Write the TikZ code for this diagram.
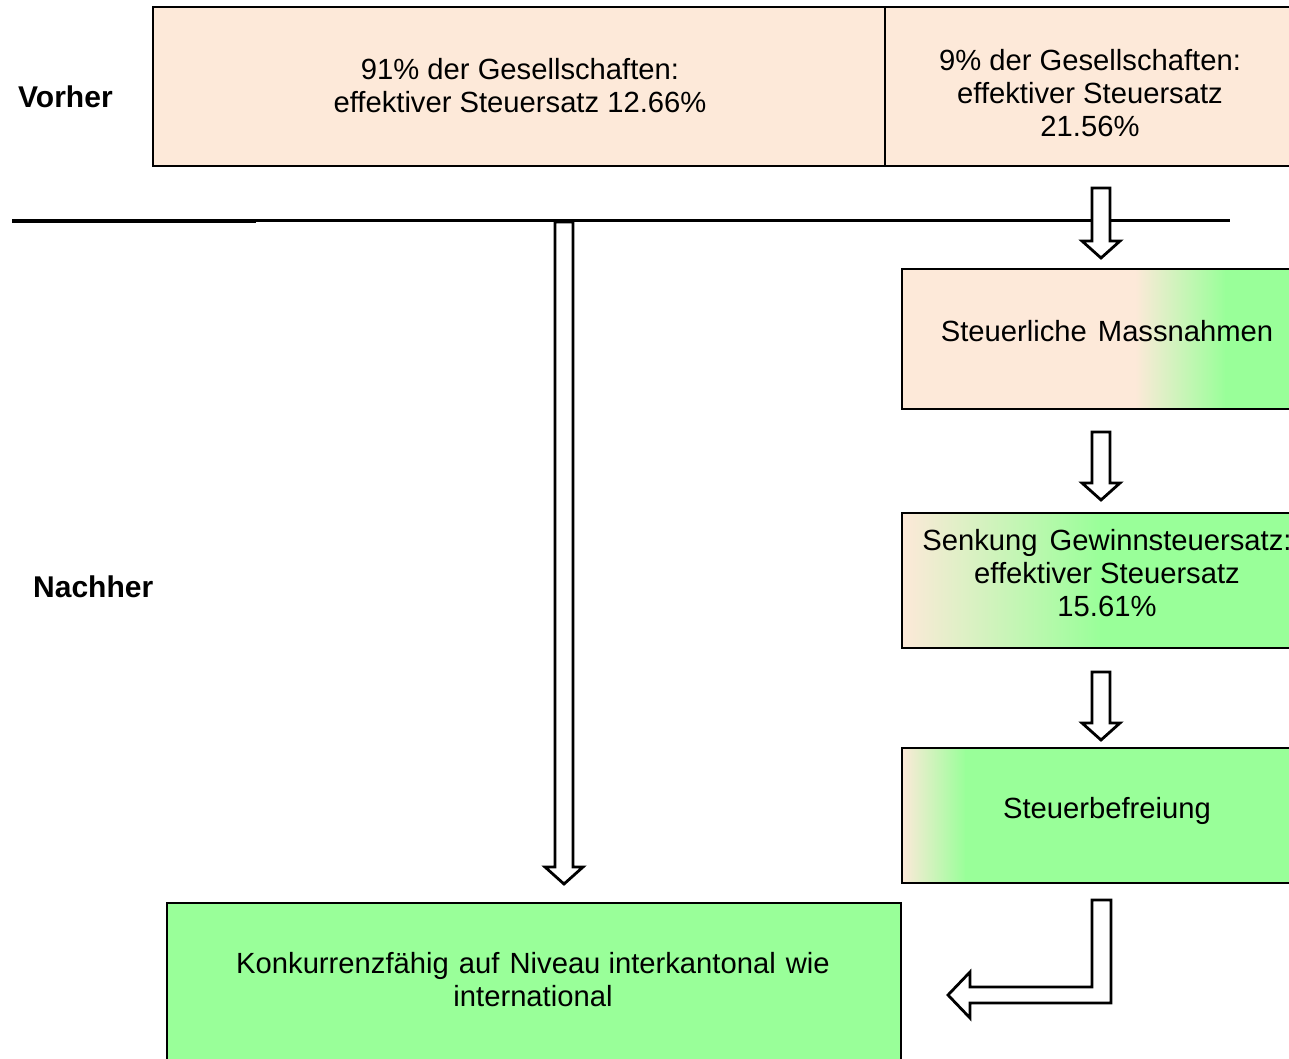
\documentclass[tikz,border=0pt]{standalone}
\usepackage{fontspec}
\setmainfont{Liberation Sans}
\definecolor{peach}{RGB}{253,233,217}
\definecolor{lgreen}{RGB}{153,255,153}
\tikzset{
  box/.style={draw=black, line width=2.5pt, rectangle, inner sep=0pt},
  txt/.style={align=center, inner sep=0pt, font=\fontsize{29.2}{33}\selectfont},
  lbl/.style={anchor=west, inner sep=0pt, font=\fontsize{30}{33}\selectfont\bfseries},
  blockarrow/.style={draw=black, fill=white, line width=2.8pt, line join=miter},
  sepline/.style={draw=black, line width=3pt},
}
\newcommand\barrowdown[3]{%
  \draw[blockarrow] (#1-9,#2) -- (#1+9,#2) -- (#1+9,#3-17) -- (#1+19,#3-17) -- (#1,#3) -- (#1-19,#3-17) -- (#1-9,#3-17) -- cycle;}
\begin{document}
\begin{tikzpicture}[x=1pt,y=-1pt]
\useasboundingbox (0,0) rectangle (1289,1059);
\clip (0,0) rectangle (1289,1059);
% fills
\fill[peach] (153,7) rectangle (1300,166);
\fill[peach] (902,269) rectangle (1136,409);
\shade[left color=peach, right color=lgreen] (1135,269) rectangle (1226,409);
\fill[lgreen] (1225,269) rectangle (1320,409);
\shade[left color=peach, right color=lgreen] (902,513) rectangle (1101,648);
\fill[lgreen] (1100,513) rectangle (1320,648);
\shade[left color=peach, right color=lgreen] (902,748) rectangle (966,883);
\fill[lgreen] (965,748) rectangle (1320,883);
\fill[lgreen] (167,903) rectangle (901,1080);
% boxes
\node[box, minimum width=732pt, minimum height=159pt] (b91) at (519,86.5) {};
\node[box, minimum width=410pt, minimum height=159pt] (b9) at (1090,86.5) {};
\node[box, minimum width=410pt, minimum height=140pt] (bmass) at (1107,339) {};
\node[box, minimum width=410pt, minimum height=135pt] (bsenk) at (1107,580.5) {};
\node[box, minimum width=410pt, minimum height=135pt] (bbef) at (1107,815.5) {};
\node[box, minimum width=734pt, minimum height=177pt] (bkonk) at (534,991.5) {};
% texts
\node[txt] (t91) at (520,86) {91\% der Gesellschaften:\\effektiver Steuersatz 12.66\%};
\node[txt] (t9) at (1090,93) {9\% der Gesellschaften:\\effektiver Steuersatz\\21.56\%};
\node[txt] (tmass) at (1107,331) {Steuerliche\hspace{3pt} Massnahmen};
\node[txt] (tsenk) at (1107,573) {Senkung\hspace{4pt} Gewinnsteuersatz:\\effektiver Steuersatz\\15.61\%};
\node[txt] (tbef) at (1107,811) {Steuerbefreiung};
\node[txt] (tkonk) at (533,980) {Konkurrenzfähig\hspace{2pt} auf\hspace{2pt} Niveau interkantonal\hspace{2pt} wie\\international};
\node[lbl] (vorher) at (18,97) {Vorher};
\node[lbl] (nachher) at (33,587) {Nachher};
% separator line
\draw[sepline, line width=3.6pt] (12,221) -- (256,221);
\draw[sepline] (256,221) -- (1230,221);
% arrows
\barrowdown{1101}{188}{258}
\barrowdown{1101}{432}{500}
\barrowdown{1101}{672}{740}
\barrowdown{564}{222}{884}
\draw[blockarrow] (1092,900) -- (1111,900) -- (1111,1003) -- (970,1003) -- (970,1018) -- (948,995) -- (970,972) -- (970,987) -- (1092,987) -- cycle;
\end{tikzpicture}
\end{document}
